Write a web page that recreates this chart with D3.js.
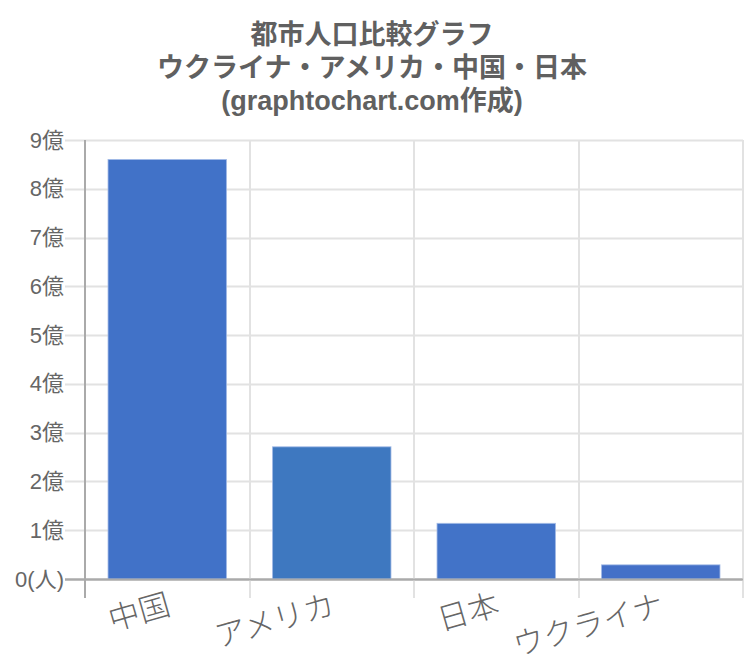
<!DOCTYPE html>
<html>
<head>
<meta charset="utf-8">
<script src="https://cdn.jsdelivr.net/npm/d3@7"></script>
<style>
  body { margin: 0; background: #fff; }
  svg { display: block; }
</style>
</head>
<body>
<div id="chart"></div>
<script>
// data
const titleLines = ["都市人口比較グラフ", "ウクライナ・アメリカ・中国・日本", "(graphtochart.com作成)"];
const categories = ["中国", "アメリカ", "日本", "ウクライナ"];
const populations = [860000000, 271000000, 114000000, 29000000];
const barColors = ["#4172c8", "#3e78c0", "#4273c8", "#4470c8"];
const yTicks = [0, 1e8, 2e8, 3e8, 4e8, 5e8, 6e8, 7e8, 8e8, 9e8];

const width = 750, height = 666;
const latin = "'Liberation Sans', 'Noto Sans CJK JP', sans-serif";

const svg = d3.select("#chart")
  .append("svg")
  .attr("width", width)
  .attr("height", height);

// title
svg.append("g")
  .selectAll("text")
  .data(titleLines)
  .join("text")
  .attr("x", 372)
  .attr("y", (d, i) => 35 + i * 33)
  .attr("text-anchor", "middle")
  .attr("dominant-baseline", "central")
  .style("font-family", latin)
  .style("font-weight", "bold")
  .style("font-size", "27px")
  .style("fill", "#606060")
  .text(d => d);

// scales
const x = d3.scaleBand()
  .domain(categories)
  .range([85, 743])
  .paddingInner(0.28)
  .paddingOuter(0.14);

const y = d3.scaleLinear()
  .domain([0, 9e8])
  .range([579, 140]);

const step = x.step();
const bandEdges = d3.range(categories.length + 1).map(i => 85 + i * step);

// horizontal grid + tick marks
svg.append("g")
  .selectAll("line")
  .data(yTicks)
  .join("line")
  .attr("x1", 65)
  .attr("x2", 743)
  .attr("y1", d => Math.round(y(d)) + 0.5)
  .attr("y2", d => Math.round(y(d)) + 0.5)
  .style("stroke", d => d === 0 ? "#aaa" : "#e2e2e2")
  .style("stroke-width", 2);

// vertical grid
svg.append("g")
  .selectAll("line")
  .data(bandEdges)
  .join("line")
  .attr("x1", d => Math.round(d))
  .attr("x2", d => Math.round(d))
  .attr("y1", 140)
  .attr("y2", 598)
  .style("stroke", (d, i) => i === 0 ? "#aaa" : "#e2e2e2")
  .style("stroke-width", 2);

// y tick labels
svg.append("g")
  .selectAll("text")
  .data(yTicks)
  .join("text")
  .attr("x", 64)
  .attr("y", d => y(d))
  .attr("text-anchor", "end")
  .attr("dominant-baseline", "central")
  .style("font-family", latin)
  .style("font-size", "22px")
  .style("fill", "#666")
  .text(d => d === 0 ? "0(人)" : (d / 1e8) + "億");

// bars
svg.append("g")
  .selectAll("rect")
  .data(populations)
  .join("rect")
  .attr("x", (d, i) => x(categories[i]))
  .attr("y", d => y(d))
  .attr("width", x.bandwidth())
  .attr("height", d => y(0) - y(d))
  .style("fill", (d, i) => barColors[i])
  .style("stroke", "rgba(160,185,230,0.8)")
  .style("stroke-width", 1);

// redraw baseline over bars
svg.append("line")
  .attr("x1", 65)
  .attr("x2", 743)
  .attr("y1", Math.round(y(0)) + 0.5)
  .attr("y2", Math.round(y(0)) + 0.5)
  .style("stroke", "#aaa")
  .style("stroke-width", 2);

// x labels, rotated
svg.append("g")
  .selectAll("text")
  .data(categories)
  .join("text")
  .attr("transform", d => `translate(${x(d) + x.bandwidth() / 2 + 1},601) rotate(-16)`)
  .attr("text-anchor", "end")
  .attr("dominant-baseline", "central")
  .style("font-family", "'Noto Sans CJK JP', sans-serif")
  .style("font-weight", 300)
  .style("font-size", "31px")
  .style("fill", "#666")
  .text(d => d);
</script>
</body>
</html>
